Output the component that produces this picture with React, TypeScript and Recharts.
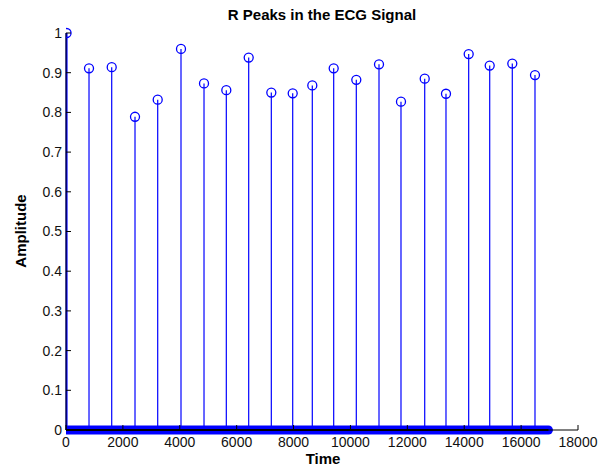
import React from 'react';
import {
    ComposedChart,
    Scatter,
    Line,
    XAxis,
    YAxis,
    ReferenceLine,
} from 'recharts';

// R peak positions (samples) and their amplitudes
const peakTimes = [20, 809, 1607, 2426, 3224, 4043, 4852, 5636, 6423, 7218, 7970, 8659, 9411, 10206, 11004, 11777, 12611, 13359, 14157, 14896, 15690, 16488];
const peakAmps = [1.0, 0.911, 0.914, 0.789, 0.832, 0.96, 0.873, 0.856, 0.938, 0.85, 0.848, 0.868, 0.911, 0.882, 0.921, 0.827, 0.885, 0.847, 0.947, 0.918, 0.923, 0.894];

// every other sample of the signal is a zero stem -> dense band on the baseline
const signalSpan = [0, 16960];

const xTicks = [0, 2000, 4000, 6000, 8000, 10000, 12000, 14000, 16000, 18000];
const yTicks = [0, 0.1, 0.2, 0.3, 0.4, 0.5, 0.6, 0.7, 0.8, 0.9, 1];

const peaks = peakTimes.map((t, i) => ({ t, v: peakAmps[i] }));
const zeros = signalSpan.map((t) => ({ t, v: 0 }));

const BLUE = '#0000ff';
const FONT = '"Liberation Sans", Arial, sans-serif';
const TICK = 5;

const YTick = ({ x, y, payload }: any) => (
    <g>
        <line x1={x + 4} y1={y} x2={x + 4 + TICK} y2={y} stroke="#000" />
        <text x={x} y={y} dy="0.35em" textAnchor="end" fontSize={14} fontFamily={FONT} fill="#111">
            {payload.value}
        </text>
    </g>
);

const XTick = ({ x, y, payload }: any) => (
    <g>
        <line x1={x} y1={y - 7} x2={x} y2={y - 7 - TICK} stroke="#000" />
        <text x={x} y={y} dy="0.71em" textAnchor="middle" fontSize={14} fontFamily={FONT} fill="#111">
            {payload.value}
        </text>
    </g>
);

const Circle = ({ cx, cy }: any) => (
    <circle cx={cx} cy={cy} r={4.5} fill="none" stroke={BLUE} strokeWidth={1.3} />
);

export default function App() {
    return (
        <div style={{ position: 'absolute', left: 0, top: 0, width: 599, height: 468, background: '#fff', fontFamily: FONT, overflow: 'hidden' }}>
            <ComposedChart width={599} height={468} margin={{ top: 33, right: 21, left: 0, bottom: 0 }}>
                <XAxis
                    type="number"
                    dataKey="t"
                    domain={[0, 18000]}
                    ticks={xTicks}
                    allowDataOverflow
                    height={38}
                    axisLine={{ stroke: '#000' }}
                    tickLine={false}
                    tickSize={0}
                    tickMargin={7}
                    tick={<XTick />}
                    interval={0}
                />
                <YAxis
                    type="number"
                    dataKey="v"
                    domain={[0, 1]}
                    ticks={yTicks}
                    width={66}
                    axisLine={{ stroke: '#000' }}
                    tickLine={false}
                    tickSize={0}
                    tickMargin={4}
                    tick={<YTick />}
                    interval={0}
                />
                {peaks.map((p) => (
                    <ReferenceLine
                        key={p.t}
                        segment={[{ x: p.t, y: 0 }, { x: p.t, y: p.v }]}
                        stroke={BLUE}
                        strokeWidth={p.t < 100 ? 2 : 1.2}
                    />
                ))}
                <Line
                    data={zeros}
                    dataKey="v"
                    stroke={BLUE}
                    strokeWidth={9}
                    strokeLinecap="round"
                    dot={false}
                    isAnimationActive={false}
                />
                <Line
                    data={zeros}
                    dataKey="v"
                    stroke="#000"
                    strokeWidth={2}
                    dot={false}
                    isAnimationActive={false}
                />
                <Scatter data={peaks} dataKey="v" shape={<Circle />} isAnimationActive={false} />
            </ComposedChart>
            <div style={{ position: 'absolute', left: 0, width: 644, top: 6, textAlign: 'center', fontWeight: 'bold', fontSize: 15, lineHeight: '18px' }}>
                R Peaks in the ECG Signal
            </div>
            <div style={{ position: 'absolute', left: 0, width: 646, top: 451, textAlign: 'center', fontWeight: 'bold', fontSize: 15, lineHeight: '16px' }}>
                Time
            </div>
            <div style={{ position: 'absolute', left: 21 - 60, top: 231 - 9, width: 120, textAlign: 'center', fontWeight: 'bold', fontSize: 15, lineHeight: '18px', transform: 'rotate(-90deg)' }}>
                Amplitude
            </div>
        </div>
    );
}
